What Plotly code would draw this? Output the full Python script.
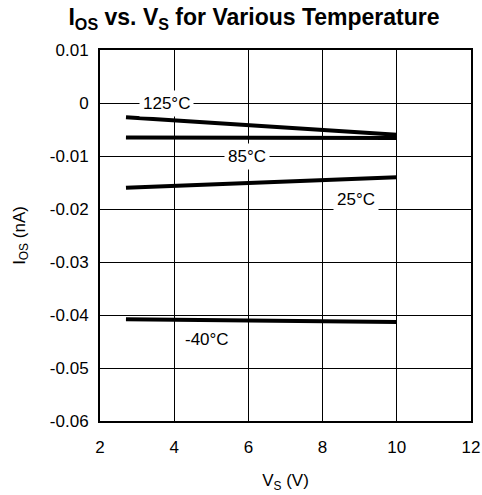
import plotly.graph_objects as go

# Supply voltage sweep (V) and input offset current (nA) per temperature
vs = [2.7, 10.0]
temps = ["125°C", "85°C", "25°C", "-40°C"]
ios_125 = [-0.0027, -0.0060]
ios_85 = [-0.0065, -0.0066]
ios_25 = [-0.0160, -0.0140]
ios_m40 = [-0.0408, -0.0413]
series = [ios_125, ios_85, ios_25, ios_m40]

# Label anchor points (V, nA)
label_x = [3.78, 5.96, 8.9, 4.88]
label_y = [0.0, -0.01, -0.0183, -0.0447]

x_ticks = [2, 4, 6, 8, 10, 12]
y_ticks = [0.01, 0, -0.01, -0.02, -0.03, -0.04, -0.05, -0.06]
y_tick_text = ["0.01", "0", "-0.01", "-0.02", "-0.03", "-0.04", "-0.05", "-0.06"]

fig = go.Figure()
for name, ys in zip(temps, series):
    fig.add_trace(go.Scatter(x=vs, y=ys, mode="lines", name=name,
                             line=dict(color="black", width=4), showlegend=False))

for txt, lx, ly in zip(temps, label_x, label_y):
    fig.add_annotation(x=lx, y=ly, text=txt, showarrow=False,
                       font=dict(family="Liberation Sans, Arial", size=17, color="black"),
                       bgcolor="white", borderpad=3)

axis_font = dict(family="Liberation Sans, Arial", size=17, color="black")
fig.update_layout(
    width=482, height=495,
    margin=dict(l=100, r=11, t=50, b=74),
    paper_bgcolor="white", plot_bgcolor="white",
    title=dict(text="<b>I<sub>OS</sub> vs. V<sub>S</sub> for Various Temperature</b>",
               x=0.527, xanchor="center", y=0.982, yanchor="top",
               font=dict(family="Liberation Sans, Arial", size=23, color="black")),
    xaxis=dict(range=[2, 12], tickvals=x_ticks, showgrid=True, gridcolor="black", gridwidth=1,
               showline=True, linecolor="black", linewidth=2, mirror=True, ticks="",
               tickfont=axis_font, zeroline=False, ticklabelstandoff=10, automargin=False,
               title=dict(text="V<sub>S</sub> (V)", font=axis_font, standoff=18)),
    yaxis=dict(range=[-0.06, 0.01], tickvals=y_ticks, ticktext=y_tick_text, showgrid=True,
               gridcolor="black", gridwidth=1, showline=True, linecolor="black", linewidth=2,
               mirror=True, ticks="", tickfont=axis_font, zeroline=False, ticklabelstandoff=6,
               automargin=False,
               title=dict(text="I<sub>OS</sub> (nA)", font=axis_font, standoff=20)),
)

fig.write_html("out.html")
